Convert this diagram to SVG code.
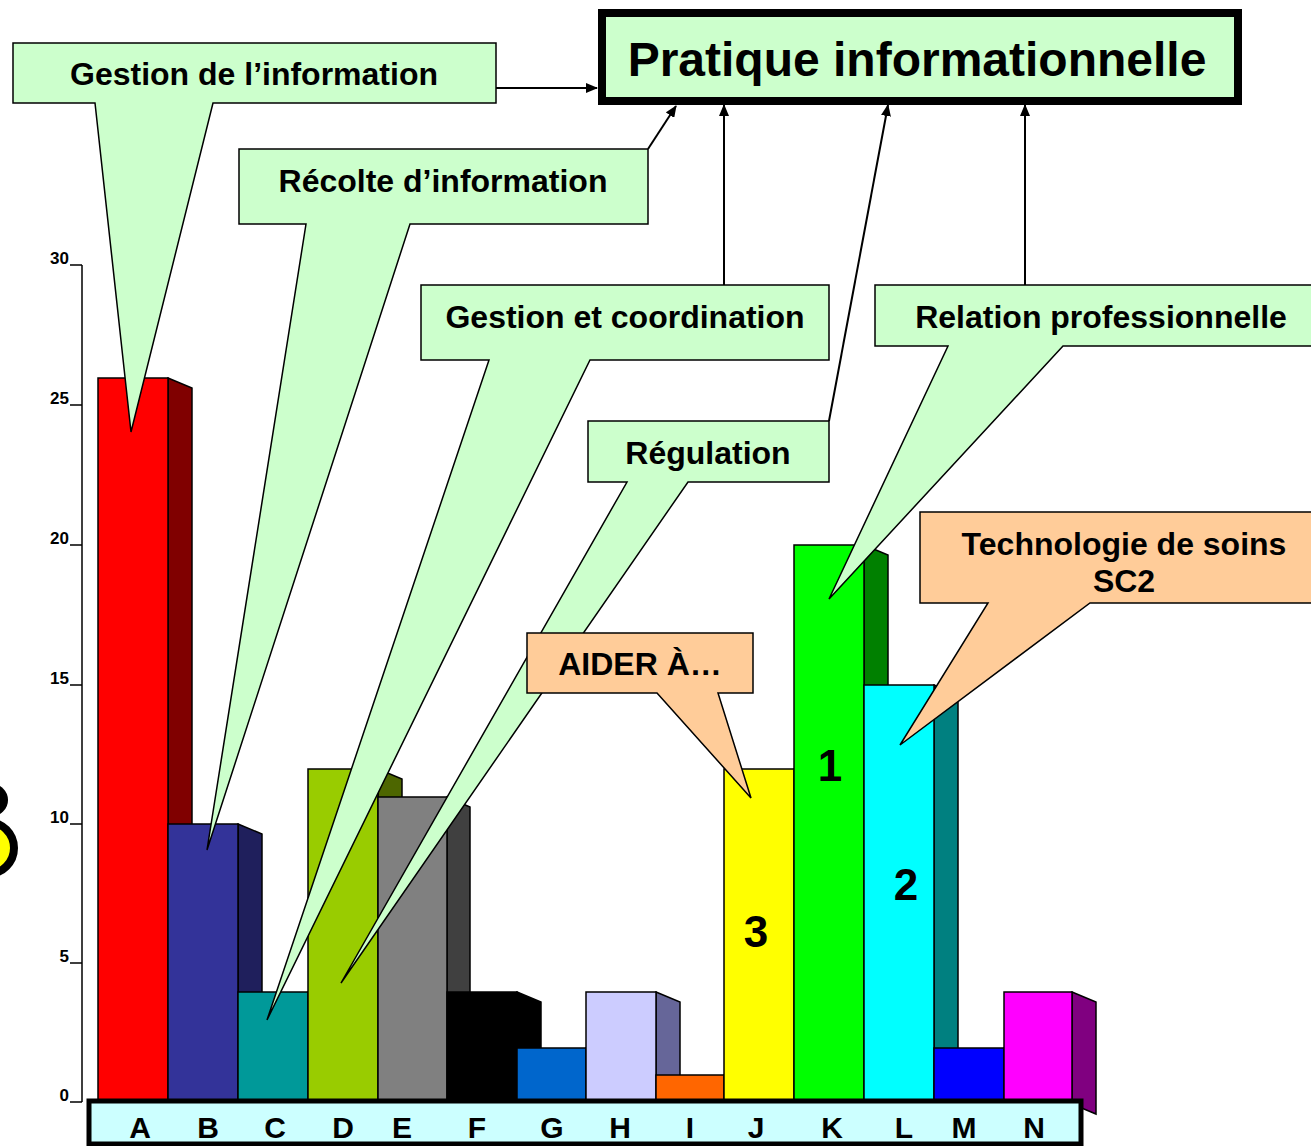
<svg xmlns="http://www.w3.org/2000/svg" width="1311" height="1146" viewBox="0 0 1311 1146">
<style>
text{font-family:"Liberation Sans",Arial,sans-serif;font-weight:bold;fill:#000}
.bar{stroke:#000;stroke-width:1.5;stroke-linejoin:miter}
.call{fill:#CCFFCC;stroke:#000;stroke-width:1.5;stroke-linejoin:miter}
.callo{fill:#FFCC99;stroke:#000;stroke-width:1.5;stroke-linejoin:miter}
.ct{font-size:32px;text-anchor:middle}
.ax{font-family:"Liberation Sans Narrow","Liberation Sans",sans-serif;font-size:17px;text-anchor:end}
.cat{font-size:30px;text-anchor:middle}
.num{font-size:44px;text-anchor:middle}
.conn{stroke:#000;stroke-width:2;fill:none}
</style>
<defs>
<marker id="arr" viewBox="0 0 12 10" refX="11" refY="5" markerWidth="12" markerHeight="10" markerUnits="userSpaceOnUse" orient="auto">
<path d="M0,0 L12,5 L0,10 Z" fill="#000"/>
</marker>
</defs>
<rect width="1311" height="1146" fill="#fff"/>

<g id="left-shape">
<circle cx="-8" cy="800" r="16" fill="#000"/>
<circle cx="-12" cy="848" r="26" fill="#FFFF00" stroke="#000" stroke-width="8"/>
</g>

<g id="axis">
<path d="M82,265 V1102 M70,265 H82 M70,405 H82 M70,545 H82 M70,685 H82 M70,824 H82 M70,963 H82 M70,1102 H82" stroke="#000" stroke-width="1.5" fill="none"/>
<text class="ax" x="69" y="264">30</text>
<text class="ax" x="69" y="404">25</text>
<text class="ax" x="69" y="544">20</text>
<text class="ax" x="69" y="684">15</text>
<text class="ax" x="69" y="823">10</text>
<text class="ax" x="69" y="962">5</text>
<text class="ax" x="69" y="1101">0</text>
</g>

<g id="bars">
<g id="bar-A"><polygon class="bar" fill="#800000" points="168,378 192,388 192,1112 168,1102"/><rect class="bar" fill="#FF0000" x="98" y="378" width="70" height="726"/></g>
<g id="bar-B"><polygon class="bar" fill="#1F1F5C" points="238,824 262,834 262,1112 238,1102"/><rect class="bar" fill="#333399" x="168" y="824" width="70" height="280"/></g>
<g id="bar-C"><polygon class="bar" fill="#006666" points="308,992 332,1002 332,1112 308,1102"/><rect class="bar" fill="#009999" x="238" y="992" width="70" height="112"/></g>
<g id="bar-D"><polygon class="bar" fill="#4D6600" points="378,769 402,779 402,1112 378,1102"/><rect class="bar" fill="#99CC00" x="308" y="769" width="70" height="335"/></g>
<g id="bar-E"><polygon class="bar" fill="#404040" points="447,797 470,807 470,1112 447,1102"/><rect class="bar" fill="#808080" x="378" y="797" width="69" height="307"/></g>
<g id="bar-F"><polygon class="bar" fill="#000000" points="517,992 541,1002 541,1112 517,1102"/><rect class="bar" fill="#000000" x="447" y="992" width="70" height="112"/></g>
<g id="bar-G"><polygon class="bar" fill="#003366" points="586,1048 610,1058 610,1112 586,1102"/><rect class="bar" fill="#0066CC" x="517" y="1048" width="69" height="56"/></g>
<g id="bar-H"><polygon class="bar" fill="#666699" points="656,992 680,1002 680,1112 656,1102"/><rect class="bar" fill="#CCCCFF" x="586" y="992" width="70" height="112"/></g>
<g id="bar-I"><polygon class="bar" fill="#803300" points="724,1075 748,1085 748,1112 724,1102"/><rect class="bar" fill="#FF6600" x="656" y="1075" width="68" height="29"/></g>
<g id="bar-J"><polygon class="bar" fill="#808000" points="794,769 818,779 818,1112 794,1102"/><rect class="bar" fill="#FFFF00" x="724" y="769" width="70" height="335"/></g>
<g id="bar-K"><polygon class="bar" fill="#008000" points="864,545 888,555 888,1112 864,1102"/><rect class="bar" fill="#00FF00" x="794" y="545" width="70" height="559"/></g>
<g id="bar-L"><polygon class="bar" fill="#008080" points="934,685 958,695 958,1112 934,1102"/><rect class="bar" fill="#00FFFF" x="864" y="685" width="70" height="419"/></g>
<g id="bar-M"><polygon class="bar" fill="#000080" points="1004,1048 1028,1058 1028,1112 1004,1102"/><rect class="bar" fill="#0000FF" x="934" y="1048" width="70" height="56"/></g>
<g id="bar-N"><polygon class="bar" fill="#800080" points="1072,992 1096,1002 1096,1114 1072,1104"/><rect class="bar" fill="#FF00FF" x="1004" y="992" width="68" height="112"/></g>
<text class="num" x="830" y="781">1</text>
<text class="num" x="906" y="900">2</text>
<text class="num" x="756" y="947">3</text>
</g>

<g id="category-axis">
<rect x="89" y="1101" width="992" height="43" fill="#CCFFFF" stroke="#000" stroke-width="5"/>
<text class="cat" x="140" y="1138">A</text>
<text class="cat" x="208" y="1138">B</text>
<text class="cat" x="275" y="1138">C</text>
<text class="cat" x="343" y="1138">D</text>
<text class="cat" x="402" y="1138">E</text>
<text class="cat" x="477" y="1138">F</text>
<text class="cat" x="552" y="1138">G</text>
<text class="cat" x="620" y="1138">H</text>
<text class="cat" x="690" y="1138">I</text>
<text class="cat" x="756" y="1138">J</text>
<text class="cat" x="832" y="1138">K</text>
<text class="cat" x="904" y="1138">L</text>
<text class="cat" x="964" y="1138">M</text>
<text class="cat" x="1034" y="1138">N</text>
</g>

<g id="callout-gestion-information">
<path class="call" d="M13,43 H496 V103 H213 L131,432 L95,103 H13 Z"/>
<text class="ct" x="254" y="85">Gestion de l’information</text>
</g>
<g id="callout-recolte">
<path class="call" d="M239,149 H648 V224 H410 L207,850 L306,224 H239 Z"/>
<text class="ct" x="443" y="192">Récolte d’information</text>
</g>
<g id="callout-gestion-coordination">
<path class="call" d="M421,285 H829 V360 H590 L267,1020 L489,360 H421 Z"/>
<text class="ct" x="625" y="328">Gestion et coordination</text>
</g>
<g id="callout-regulation">
<path class="call" d="M588,421 H829 V482 H688 L341,983 L627,482 H588 Z"/>
<text class="ct" x="708" y="464">Régulation</text>
</g>
<g id="callout-relation">
<path class="call" d="M875,285 H1313 V346 H1063 L829,599 L948,346 H875 Z"/>
<text class="ct" x="1101" y="328">Relation professionnelle</text>
</g>
<g id="callout-technologie">
<path class="callo" d="M920,512 H1313 V603 H1090 L900,745 L988,603 H920 Z"/>
<text class="ct" x="1124" y="555">Technologie de soins</text>
<text class="ct" x="1124" y="592">SC2</text>
</g>
<g id="callout-aider">
<path class="callo" d="M527,633 H753 V693 H718 L751,798 L657,693 H527 Z"/>
<text class="ct" x="640" y="675">AIDER À…</text>
</g>

<g id="connectors">
<line class="conn" x1="496" y1="88" x2="597" y2="88" marker-end="url(#arr)"/>
<line class="conn" x1="648" y1="149" x2="676" y2="106" marker-end="url(#arr)"/>
<line class="conn" x1="724" y1="285" x2="724" y2="105" marker-end="url(#arr)"/>
<line class="conn" x1="829" y1="421" x2="888" y2="105" marker-end="url(#arr)"/>
<line class="conn" x1="1025" y1="285" x2="1025" y2="105" marker-end="url(#arr)"/>
</g>

<g id="title">
<rect x="602" y="13" width="636" height="88" fill="#CCFFCC" stroke="#000" stroke-width="8"/>
<text x="917" y="76" font-size="48" text-anchor="middle">Pratique informationnelle</text>
</g>
</svg>
